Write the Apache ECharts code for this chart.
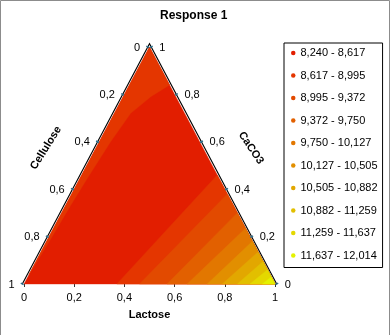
<!DOCTYPE html>
<html><head><meta charset="utf-8">
<script src="https://cdn.jsdelivr.net/npm/echarts@6/dist/echarts.min.js"></script>
<style>html,body{margin:0;padding:0;background:#fff}#c{width:390px;height:335px}</style>
</head><body><div id="c"></div>
<script>
// ---- data ----
const bandLabels = ['8,240 - 8,617','8,617 - 8,995','8,995 - 9,372','9,372 - 9,750','9,750 - 10,127',
  '10,127 - 10,505','10,505 - 10,882','10,882 - 11,259','11,259 - 11,637','11,637 - 12,014'];
const bandColors = ['#E21E00','#E43600','#E24A00','#E26000','#E27700','#E28F00','#E2A700','#E2BF00','#E4D800','#E4F200'];
const axisTicks = [0, 0.2, 0.4, 0.6, 0.8, 1];
// contour regions, points as [lactose, caco3] (cellulose = 1 - lactose - caco3)
const wholeTriangle = [[0,0],[1,0],[0,1]];
const leftCapBand1 = [[0,0.04],[0,1],[0.16,0.84],[0.11,0.79],[0.065,0.72],[0.045,0.6],[0.03,0.45],[0.02,0.33],[0.011,0.18],[0.004,0.08]];
// lower-right contour lines: start on the Lactose edge, end on the CaCO3 edge
const contourBottomLactose = [0.37, 0.46, 0.57, 0.65, 0.73, 0.79, 0.85, 0.90, 0.95];
const contourRightCaco3    = [0.46, 0.38, 0.30, 0.235, 0.18, 0.135, 0.095, 0.06, 0.03];

// ---- build regions ----
const bandRegions = bandLabels.map(() => []);
bandRegions[0].push(wholeTriangle);
bandRegions[1].push(leftCapBand1);
contourBottomLactose.forEach((l, k) => {
  const c = contourRightCaco3[k];
  bandRegions[k + 1].push([[l, 0], [1 - c, c], [1, 0]]);
});

const toXY = p => [p[0] + p[1] / 2, p[1]];
const fmt = v => v === 0 ? '0' : v === 1 ? '1' : v.toFixed(1).replace('.', ',');
const FONT = 'Liberation Sans';

const bandSeries = bandLabels.map((name, i) => ({
  type: 'custom', name, coordinateSystem: 'cartesian2d', silent: true, z: 2 + i,
  itemStyle: { color: bandColors[i] },
  data: bandRegions[i].map((_, j) => [j, 0]),
  renderItem: (params, api) => {
    const poly = bandRegions[i][params.dataIndex];
    return { type: 'polygon', shape: { points: poly.map(p => api.coord(toXY(p))) },
      style: { fill: bandColors[i], stroke: bandColors[i], lineWidth: 0.4 } };
  }
}));

const frameSeries = {
  type: 'custom', coordinateSystem: 'cartesian2d', silent: true, z: 30,
  data: [[0, 0]],
  renderItem: (params, api) => {
    const P = (l, c) => api.coord(toXY([l, c]));
    const A = P(0, 0), B = P(1, 0), T = P(0, 1);
    const ch = [];
    const lineStyle = { stroke: '#000', lineWidth: 1.1, fill: null };
    const A2 = [A[0] - 1.7, A[1]], B2 = [B[0] + 1.7, B[1]], T2 = [T[0], T[1] - 3.2];
    ch.push({ type: 'polyline', shape: { points: [A2, T2, B2] }, style: lineStyle });
    const tickColor = '#2C6E8C';
    const txt = (x, y, s, align) => ({ type: 'text', x, y,
      style: { text: s, fontSize: 11, fontFamily: FONT, fill: '#000', align, verticalAlign: 'middle' } });
    axisTicks.forEach(v => {
      // Cellulose (left edge): 0 at top, 1 at bottom-left
      const pl = P(0, 1 - v);
      ch.push({ type: 'line', shape: { x1: pl[0] - 3.2, y1: pl[1] - 0.8, x2: pl[0] - 0.4, y2: pl[1] + 0.7 },
        style: { stroke: tickColor, lineWidth: 1.5 } });
      ch.push(txt(pl[0] - 9.5, pl[1] + 0.5, fmt(v), 'right'));
      // CaCO3 (right edge): 1 at top, 0 at bottom-right
      const pr = P(1 - v, v);
      ch.push({ type: 'line', shape: { x1: pr[0] + 0.4, y1: pr[1] + 0.7, x2: pr[0] + 3.2, y2: pr[1] - 0.8 },
        style: { stroke: tickColor, lineWidth: 1.5 } });
      ch.push(txt(pr[0] + 9.8, pr[1] + 0.5, fmt(v), 'left'));
    });
    ch.push({ type: 'text', x: 46, y: 148, rotation: 58 * Math.PI / 180,
      style: { text: 'Cellulose', fontSize: 11, fontWeight: 'bold', fontFamily: FONT, fill: '#000', align: 'center', verticalAlign: 'middle' } });
    ch.push({ type: 'text', x: 251, y: 148, rotation: -56 * Math.PI / 180,
      style: { text: 'CaCO3', fontSize: 11, fontWeight: 'bold', fontFamily: FONT, fill: '#000', align: 'center', verticalAlign: 'middle' } });
    return { type: 'group', children: ch };
  }
};

const chart = echarts.init(document.getElementById('c'), null, { renderer: 'canvas' });
chart.setOption({
  animation: false,
  backgroundColor: '#fff',
  title: { text: 'Response 1', left: 160, top: 10, padding: 0,
    textStyle: { fontSize: 12, fontWeight: 'bold', fontFamily: FONT, color: '#000' } },
  grid: { left: 24, top: 47, width: 251, height: 237 },
  xAxis: { type: 'value', min: 0, max: 1, interval: 0.2,
    name: 'Lactose', nameLocation: 'middle', nameGap: 25,
    nameTextStyle: { fontSize: 11, fontWeight: 'bold', fontFamily: FONT, color: '#000' },
    axisLine: { show: false }, splitLine: { show: false },
    axisTick: { show: true, length: 3, lineStyle: { color: '#333' } },
    axisLabel: { margin: 8, fontSize: 11, fontFamily: FONT, color: '#000', formatter: fmt } },
  yAxis: { type: 'value', min: 0, max: 1, show: false },
  legend: { data: bandLabels, orient: 'vertical', left: 284, top: 43, padding: [3, 5, 5, 7],
    itemGap: 8.5, itemWidth: 4.5, itemHeight: 4.5, icon: 'circle', selectedMode: false,
    borderColor: '#000', borderWidth: 1,
    textStyle: { fontSize: 11, fontFamily: FONT, color: '#000', lineHeight: 14 } },
  graphic: [{ type: 'rect', silent: true, shape: { x: 0.5, y: 0.5, width: 389, height: 345 },
    style: { fill: 'none', stroke: '#8c8c8c', lineWidth: 1 } }],
  series: bandSeries.concat([frameSeries])
});
</script></body></html>
